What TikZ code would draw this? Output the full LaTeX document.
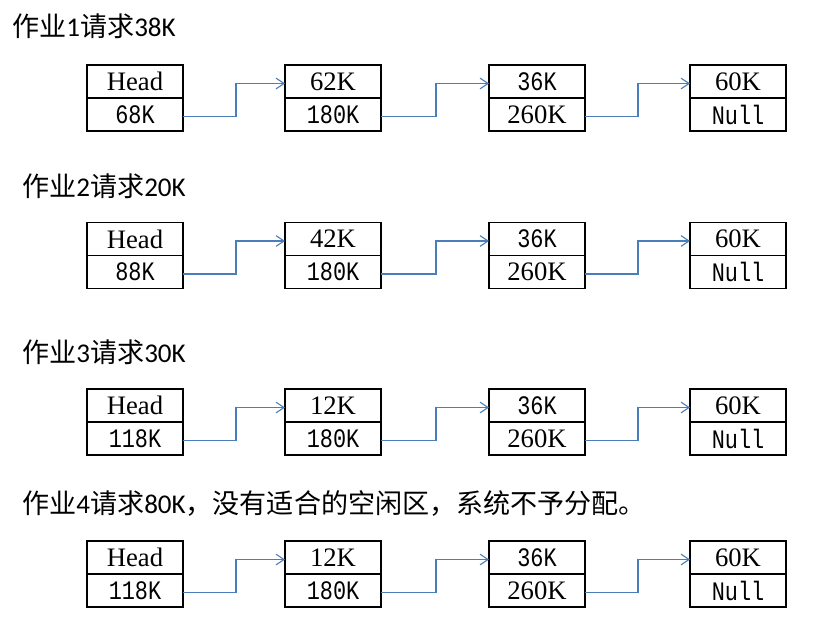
\documentclass[tikz,border=0pt]{standalone}
\usepackage{fontspec}
\usetikzlibrary{positioning,arrows.meta}
\newfontfamily\cjk{Noto Sans CJK SC}
\newfontfamily\clb{Carlito}
\newfontfamily\tms{Liberation Serif}
\newfontfamily\song[FakeStretch=0.82]{Liberation Mono}
\definecolor{linkblue}{HTML}{4A7EBB}
\tikzset{
  cell/.style={draw, line width=1.1pt, minimum width=72pt, minimum height=24.75pt,
    inner sep=0pt, outer sep=0pt, font=\fontsize{20}{24}\selectfont},
  link/.style={draw=linkblue, line width=0.8pt, -{Straight Barb[length=6pt,width=8pt]}},
  job/.style={anchor=west, inner sep=0pt, font=\fontsize{20.3}{24}\selectfont},
}
\begin{document}
\begin{tikzpicture}[x=0.75pt, y=-0.75pt]
    \useasboundingbox (0,0) rectangle (831,631);
    % Job requests
    \node[job] (job1) at (12,26) {\cjk 作业\clb 1\cjk 请求\clb 38K};
    \node[job] (job2) at (22,186) {\cjk 作业\clb 2\cjk 请求\clb 20K};
    \node[job] (job3) at (22,352) {\cjk 作业\clb 3\cjk 请求\clb 30K};
    \node[job] (job4) at (22,503) {\cjk 作业\clb 4\cjk 请求\clb 80K\cjk ，没有适合的空闲区，系统不予分配。};
    % Free block chains
    \foreach \r/\y/\h/\f in {1/81.5/68K/62K, 2/239/88K/42K, 3/405.5/118K/12K, 4/557.5/118K/12K} {
        \node[cell] (h\r) at (135,\y) {\tms Head};
        \node[cell, below=0pt of h\r] (hn\r) {\song \h};
        \node[cell] (a\r) at (333,\y) {\tms \f};
        \node[cell, below=0pt of a\r] (an\r) {\song 180K};
        \node[cell] (b\r) at (537,\y) {\song 36K};
        \node[cell, below=0pt of b\r] (bn\r) {\tms 260K};
        \node[cell] (c\r) at (738,\y) {\tms 60K};
        \node[cell, below=0pt of c\r] (cn\r) {\song Null};
        % Next pointers
        \draw[link] ([yshift=-1.5pt]hn\r.east) -- ++(53,0) |- ([yshift=-1.5pt]a\r.west);
        \draw[link] ([yshift=-1.5pt]an\r.east) -- ++(55,0) |- ([yshift=-1.5pt]b\r.west);
        \draw[link] ([yshift=-1.5pt]bn\r.east) -- ++(53,0) |- ([yshift=-1.5pt]c\r.west);
    }
\end{tikzpicture}
\end{document}
